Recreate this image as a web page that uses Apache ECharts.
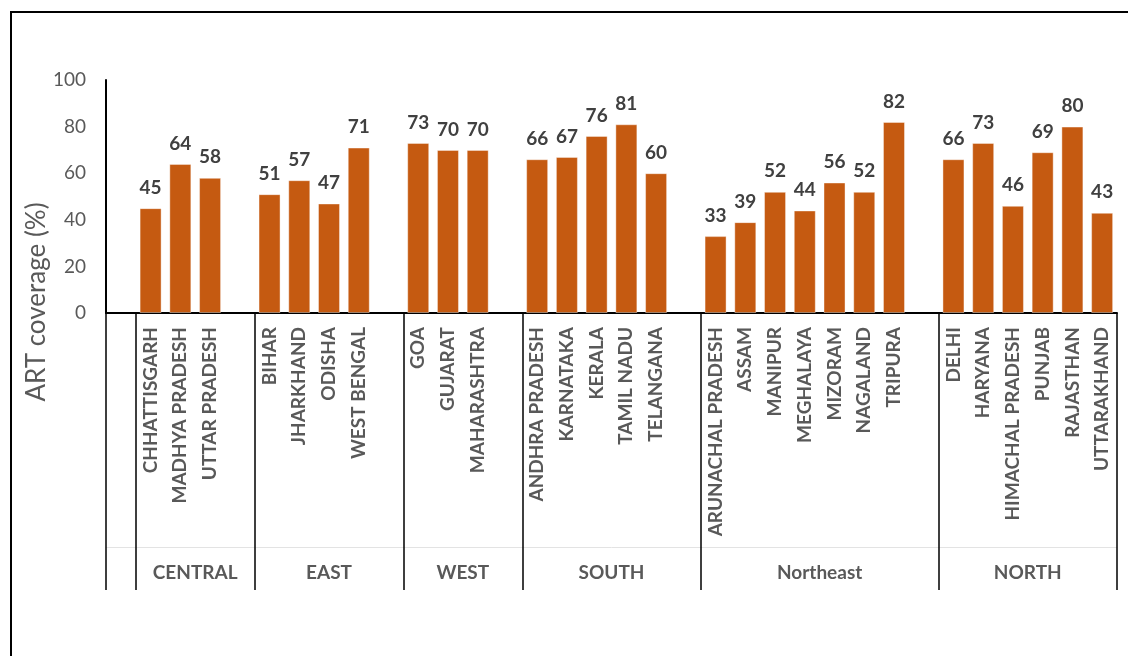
<!DOCTYPE html>
<html><head><meta charset="utf-8">
<script src="https://cdn.jsdelivr.net/npm/echarts@6/dist/echarts.min.js"></script>
<style>html,body{margin:0;padding:0;background:#fff}#c{width:1128px;height:656px}</style>
</head><body><div id="c"></div>
<script>
// ---- data ----
const groupNames = ['CENTRAL', 'EAST', 'WEST', 'SOUTH', 'Northeast', 'NORTH'];
const centralStates = ['CHHATTISGARH', 'MADHYA PRADESH', 'UTTAR PRADESH'];
const centralValues = [45, 64, 58];
const eastStates = ['BIHAR', 'JHARKHAND', 'ODISHA', 'WEST BENGAL'];
const eastValues = [51, 57, 47, 71];
const westStates = ['GOA', 'GUJARAT', 'MAHARASHTRA'];
const westValues = [73, 70, 70];
const southStates = ['ANDHRA PRADESH', 'KARNATAKA', 'KERALA', 'TAMIL NADU', 'TELANGANA'];
const southValues = [66, 67, 76, 81, 60];
const northeastStates = ['ARUNACHAL PRADESH', 'ASSAM', 'MANIPUR', 'MEGHALAYA', 'MIZORAM', 'NAGALAND', 'TRIPURA'];
const northeastValues = [33, 39, 52, 44, 56, 52, 82];
const northStates = ['DELHI', 'HARYANA', 'HIMACHAL PRADESH', 'PUNJAB', 'RAJASTHAN', 'UTTARAKHAND'];
const northValues = [66, 73, 46, 69, 80, 43];
const yTicks = [0, 20, 40, 60, 80, 100];
const yTitle = 'ART coverage (%)';

// ---- build category list (blank spacer slots between groups) ----
const groupStates = [centralStates, eastStates, westStates, southStates, northeastStates, northStates];
const groupValues = [centralValues, eastValues, westValues, southValues, northeastValues, northValues];
const cats = [''];
const vals = [null];
const bounds = [0, 1];
const centers = [];
const centerName = {};
groupStates.forEach(function (st, gi) {
  const start = cats.length;
  st.forEach(function (s, i) { cats.push(s); vals.push(groupValues[gi][i]); });
  if (gi < groupStates.length - 1) { cats.push(''); vals.push(null); }
  const end = cats.length;
  bounds.push(end);
  const c = (start + end) / 2;
  centers.push(c);
  centerName[c] = groupNames[gi];
});
const N = cats.length;

const FONT = 'Lato';
const chart = echarts.init(document.getElementById('c'));
chart.setOption({
  animation: false,
  backgroundColor: '#ffffff',
  grid: { left: 106, right: 11, top: 80, bottom: 343, outerBoundsMode: 'none' },
  xAxis: [
    {
      type: 'category', data: cats, position: 'bottom', boundaryGap: true,
      axisLine: { show: true, lineStyle: { color: '#000', width: 2 } },
      axisTick: { show: false },
      axisLabel: {
        interval: 0, rotate: 90, margin: 14,
        color: '#595959', fontFamily: FONT, fontWeight: 'bold', fontSize: 19
      },
      splitLine: { show: false }
    },
    {
      type: 'value', min: 0, max: N, position: 'bottom',
      axisLine: { show: false },
      axisTick: { show: true, customValues: bounds, length: 277, lineStyle: { color: '#000', width: 1.5 } },
      axisLabel: {
        show: true, customValues: centers, margin: 250,
        formatter: function (v) { return centerName[v] || ''; },
        color: '#595959', fontFamily: FONT, fontWeight: 'bold', fontSize: 19
      },
      splitLine: { show: false }
    },
    {
      type: 'value', min: 0, max: N, position: 'bottom', offset: 234,
      axisLine: { show: true, lineStyle: { color: '#e3e3e3', width: 1 } },
      axisTick: { show: false }, axisLabel: { show: false }, splitLine: { show: false }
    }
  ],
  yAxis: {
    type: 'value', min: yTicks[0], max: yTicks[yTicks.length - 1], interval: 20,
    axisLine: { show: true, lineStyle: { color: '#000', width: 2 } },
    axisTick: { show: false },
    splitLine: { show: false },
    axisLabel: { margin: 20, color: '#595959', fontFamily: FONT, fontSize: 19 }
  },
  graphic: [
    { type: 'rect', shape: { x: 11, y: 12, width: 1400, height: 900 }, style: { fill: 'none', stroke: '#000', lineWidth: 2 }, silent: true },
    { type: 'text', x: 37, y: 302, rotation: Math.PI / 2,
      style: { text: yTitle, fill: '#595959', font: '26px ' + FONT, textAlign: 'center', textVerticalAlign: 'middle' } }
  ],
  series: [{
    type: 'bar', data: vals, xAxisIndex: 0, barCategoryGap: '26%',
    itemStyle: { color: '#C55A11', borderColor: 'rgba(255,255,255,0.4)', borderWidth: 1 },
    label: {
      show: true, position: 'top', distance: 11,
      color: '#404040', fontFamily: FONT, fontWeight: 'bold', fontSize: 19
    }
  }]
});
</script></body></html>
